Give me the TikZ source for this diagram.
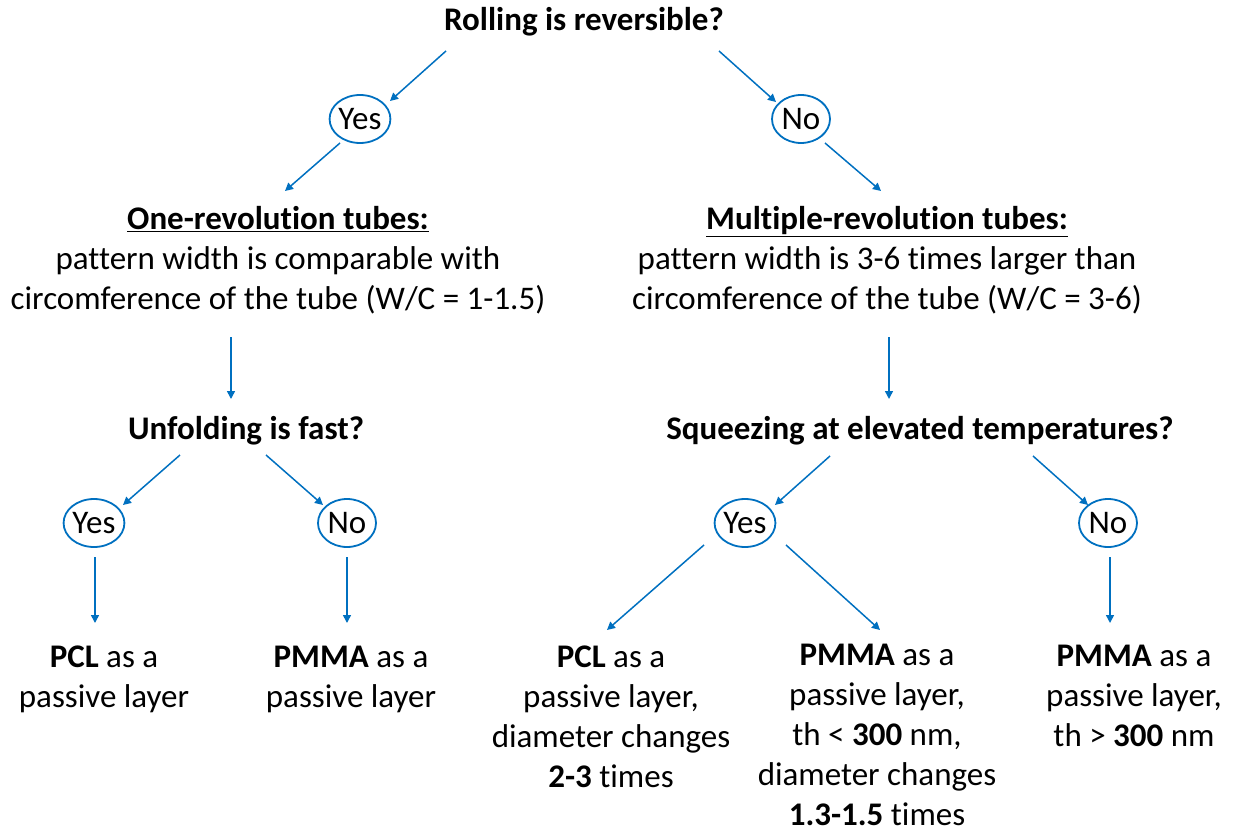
\documentclass[tikz,border=0pt]{standalone}
\usepackage{fontspec}
\setmainfont{Carlito}[Ligatures=NoCommon]
\usetikzlibrary{arrows.meta,shapes.geometric}
\definecolor{arrblue}{RGB}{0,112,192}
\begin{document}
\begin{tikzpicture}[x=1pt,y=-1pt,
  txt/.style={inner sep=0pt, align=center, font=\fontsize{33}{40}\selectfont},
  qtxt/.style={inner sep=0pt, align=center, font=\bfseries\fontsize{33}{40}\selectfont},
  ans/.style={ellipse, draw=arrblue, line width=1.8pt, minimum width=58pt, minimum height=48pt, inner sep=0pt, font=\fontsize{33}{40}\selectfont},
  arr/.style={draw=arrblue, line width=1.5pt, -{Triangle[width=8pt,length=8pt]}}
]
\useasboundingbox (0,0) rectangle (1234,832);
% questions
\node[qtxt] (q1) at (584,22) {Rolling is reversible?};
\node[ans] (y1) at (360,119) {Yes};
\node[ans] (n1) at (801,119) {No};
\node[txt] (h1) at (278,260) {\textbf{\underline{One-revolution tubes:}}\\pattern width is comparable with\\circomference of the tube (W/C = 1-1.5)};
\node[txt] (h2) at (887,260) {\textbf{\underline{Multiple-revolution tubes:}}\\pattern width is 3-6 times larger than\\circomference of the tube (W/C = 3-6)};
\node[qtxt] (q2) at (246,431) {Unfolding is fast?};
\node[qtxt] (q3) at (920,431) {Squeezing at elevated temperatures?};
\node[ans] (y2) at (94,523) {Yes};
\node[ans] (n2) at (347,523) {No};
\node[ans] (y3) at (745,523) {Yes};
\node[ans] (n3) at (1108,523) {No};
\node[txt] (r1) at (104,679) {\textbf{PCL} as a\\passive layer};
\node[txt] (r2) at (351,679) {\textbf{PMMA} as a\\passive layer};
\node[txt] (r3) at (611,717) {\textbf{PCL} as a\\passive layer,\\diameter changes\\\textbf{2-3} times};
\node[txt] (r4) at (877,735) {\textbf{PMMA} as a\\passive layer,\\th < \textbf{300} nm,\\diameter changes\\\textbf{1.3-1.5} times};
\node[txt] (r5) at (1134,696) {\textbf{PMMA} as a\\passive layer,\\th > \textbf{300} nm};
% connector end points
\coordinate (a1s) at (446,51);  \coordinate (a1e) at (390,101);
\coordinate (a2s) at (719,51);  \coordinate (a2e) at (776,102);
\coordinate (a3s) at (340,143); \coordinate (a3e) at (285,191);
\coordinate (a4s) at (825,143); \coordinate (a4e) at (881,191);
\coordinate (a5s) at (231,337); \coordinate (a5e) at (231,399);
\coordinate (a6s) at (889,337); \coordinate (a6e) at (889,399);
\coordinate (a7s) at (180,455); \coordinate (a7e) at (123,505);
\coordinate (a8s) at (266,455); \coordinate (a8e) at (323,505);
\coordinate (a9s) at (830,456); \coordinate (a9e) at (775,505);
\coordinate (a10s) at (1033,456); \coordinate (a10e) at (1088,505);
\coordinate (a11s) at (95,557); \coordinate (a11e) at (95,623);
\coordinate (a12s) at (347,557); \coordinate (a12e) at (347,623);
\coordinate (a13s) at (704,545); \coordinate (a13e) at (607,630);
\coordinate (a14s) at (786,545); \coordinate (a14e) at (880,630);
\coordinate (a15s) at (1110,557); \coordinate (a15e) at (1110,623);
\foreach \i in {1,...,15} {\draw[arr] (a\i s) -- (a\i e);}
\end{tikzpicture}
\end{document}
